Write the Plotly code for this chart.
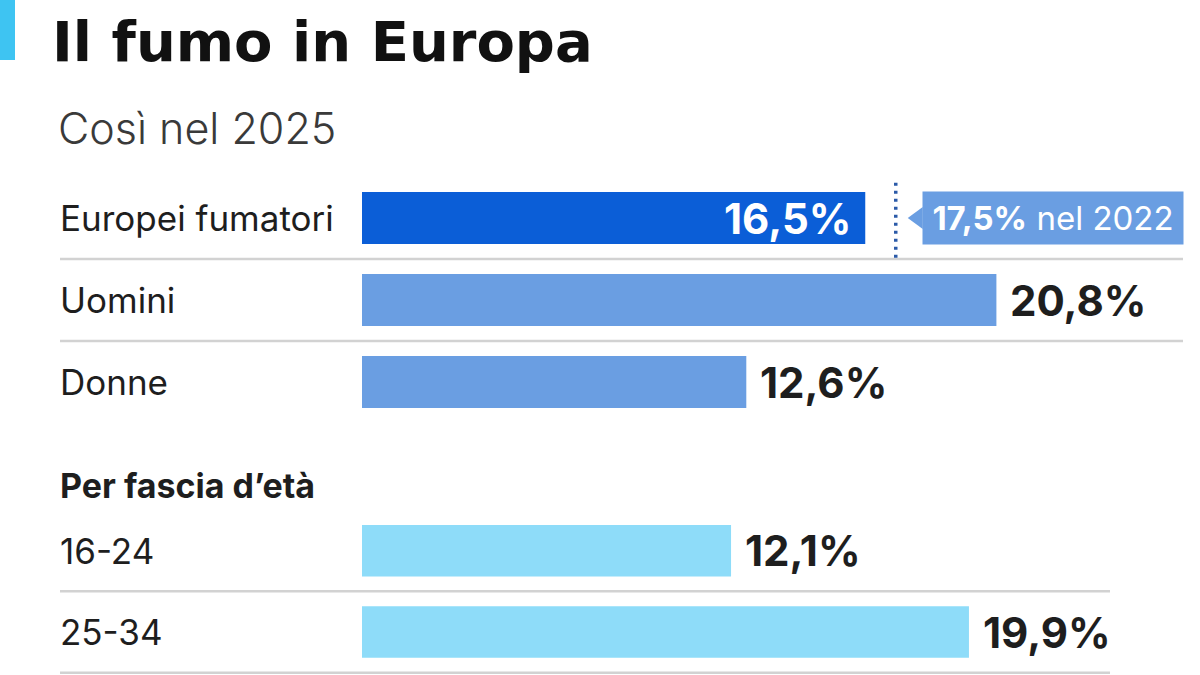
import plotly.graph_objects as go

# ---- data ----
main_labels = ["Europei fumatori", "Uomini", "Donne"]
main_values = [16.5, 20.8, 12.6]
age_labels = ["16-24", "25-34"]
age_values = [12.1, 19.9]
prev_value = 17.5
prev_year = "2022"
title = "Il fumo in Europa"
subtitle = "Così nel 2025"
age_header = "Per fascia d’età"

# ---- style ----
W, H = 1200, 675
C_DARK = "#0b5ed7"
C_MID = "#6a9ee2"
C_AGE = "#8edcf9"
C_ACCENT = "#3ec4f2"
C_GRID = "#d2d2d2"
C_TEXT = "#1e1e1e"
FONT = "Inter"

X0_PX = 362
PX_PER_UNIT = 30.5
x_range = [0, (W - X0_PX) / PX_PER_UNIT]


def fmt(v):
    return f"{v:.1f}".replace(".", ",") + "%"


def py(px):
    return 1 - px / H


fig = go.Figure()

fig.add_trace(go.Bar(
    y=main_labels, x=main_values, orientation="h",
    marker=dict(color=[C_DARK, C_MID, C_MID], line=dict(width=0)),
    xaxis="x", yaxis="y", hoverinfo="skip", showlegend=False,
))
fig.add_trace(go.Bar(
    y=age_labels, x=age_values, orientation="h",
    marker=dict(color=C_AGE, line=dict(width=0)),
    xaxis="x2", yaxis="y2", hoverinfo="skip", showlegend=False,
))

ann = []
shapes = []

LABEL_FONT = dict(family=FONT, size=35, color=C_TEXT)
VALUE_SIZE = 42

# category labels
for lab in main_labels:
    ann.append(dict(x=58 / W, xref="paper", y=lab, yref="y", xanchor="left", yanchor="middle",
                    text=lab, showarrow=False, font=LABEL_FONT))
for lab in age_labels:
    ann.append(dict(x=58 / W, xref="paper", y=lab, yref="y2", xanchor="left", yanchor="middle",
                    text=lab, showarrow=False, font=LABEL_FONT))

# value labels
for i, (lab, v) in enumerate(zip(main_labels, main_values)):
    if i == 0:
        ann.append(dict(x=v, xref="x", y=lab, yref="y", xanchor="right", yanchor="middle",
                        xshift=-12, text=f"<b>{fmt(v)}</b>", showarrow=False,
                        font=dict(family=FONT, size=VALUE_SIZE, color="white")))
    else:
        ann.append(dict(x=v, xref="x", y=lab, yref="y", xanchor="left", yanchor="middle",
                        xshift=12, text=f"<b>{fmt(v)}</b>", showarrow=False,
                        font=dict(family=FONT, size=VALUE_SIZE, color=C_TEXT)))
for lab, v in zip(age_labels, age_values):
    ann.append(dict(x=v, xref="x2", y=lab, yref="y2", xanchor="left", yanchor="middle",
                    xshift=12, text=f"<b>{fmt(v)}</b>", showarrow=False,
                    font=dict(family=FONT, size=VALUE_SIZE, color=C_TEXT)))

# previous-year callout
ann.append(dict(x=prev_value, xref="x", y=main_labels[0], yref="y", xanchor="left", yanchor="middle",
                xshift=26, text=f"<b>{fmt(prev_value)}</b> nel {prev_year}", showarrow=False,
                bgcolor=C_MID, width=250, height=42, borderpad=5, align="center",
                font=dict(family=FONT, size=33, color="white")))
shapes.append(dict(type="path", xref="x", yref="y", xsizemode="pixel", ysizemode="pixel",
                   xanchor=prev_value, yanchor=0,
                   path="M 12,0 L 27,11 L 27,-11 Z", fillcolor=C_MID, line=dict(width=0)))
shapes.append(dict(type="line", xref="x", yref="y", x0=prev_value, x1=prev_value, y0=-0.43, y1=0.49,
                   line=dict(color="#2b5aa8", width=3.5, dash="3px,5px")))

# separators
for yv in [0.5, 1.5]:
    shapes.append(dict(type="line", xref="paper", yref="y", x0=60 / W, x1=1183 / W, y0=yv, y1=yv,
                       line=dict(color=C_GRID, width=2.5), layer="below"))
for yv in [0.5, 1.5]:
    shapes.append(dict(type="line", xref="paper", yref="y2", x0=60 / W, x1=1110 / W, y0=yv, y1=yv,
                       line=dict(color=C_GRID, width=2.5), layer="below"))

# accent bar
shapes.append(dict(type="rect", xref="paper", yref="paper", x0=0, x1=15 / W, y0=py(60), y1=1,
                   fillcolor=C_ACCENT, line=dict(width=0)))

# title / subtitle / header
ann.append(dict(x=50 / W, xref="paper", y=py(41), yref="paper", xanchor="left", yanchor="middle",
                text=title, showarrow=False,
                font=dict(family="DejaVu Sans", size=56, color="#111111", weight=700)))
ann.append(dict(x=56 / W, xref="paper", y=py(128), yref="paper", xanchor="left", yanchor="middle",
                text=subtitle, showarrow=False,
                font=dict(family=FONT, size=43, color="#3a3a3a", weight=300)))
ann.append(dict(x=58 / W, xref="paper", y=py(485), yref="paper", xanchor="left", yanchor="middle",
                text=f"<b>{age_header}</b>", showarrow=False,
                font=dict(family=FONT, size=34, color=C_TEXT)))

axis_x = dict(domain=[X0_PX / W, 1], range=x_range, visible=False, fixedrange=True)
fig.update_layout(
    width=W, height=H,
    margin=dict(l=0, r=0, t=0, b=0),
    paper_bgcolor="white", plot_bgcolor="white",
    bargap=0.366,
    xaxis=dict(**axis_x, anchor="y"),
    xaxis2=dict(**axis_x, anchor="y2"),
    yaxis=dict(domain=[py(423), py(177)], autorange="reversed", visible=False,
               categoryorder="array", categoryarray=main_labels, anchor="x"),
    yaxis2=dict(domain=[py(674), py(510)], autorange="reversed", visible=False,
                categoryorder="array", categoryarray=age_labels, anchor="x2"),
    annotations=ann, shapes=shapes,
)

fig.write_html("out.html", config={"displayModeBar": False},
               post_script="document.body.style.margin='0';")
